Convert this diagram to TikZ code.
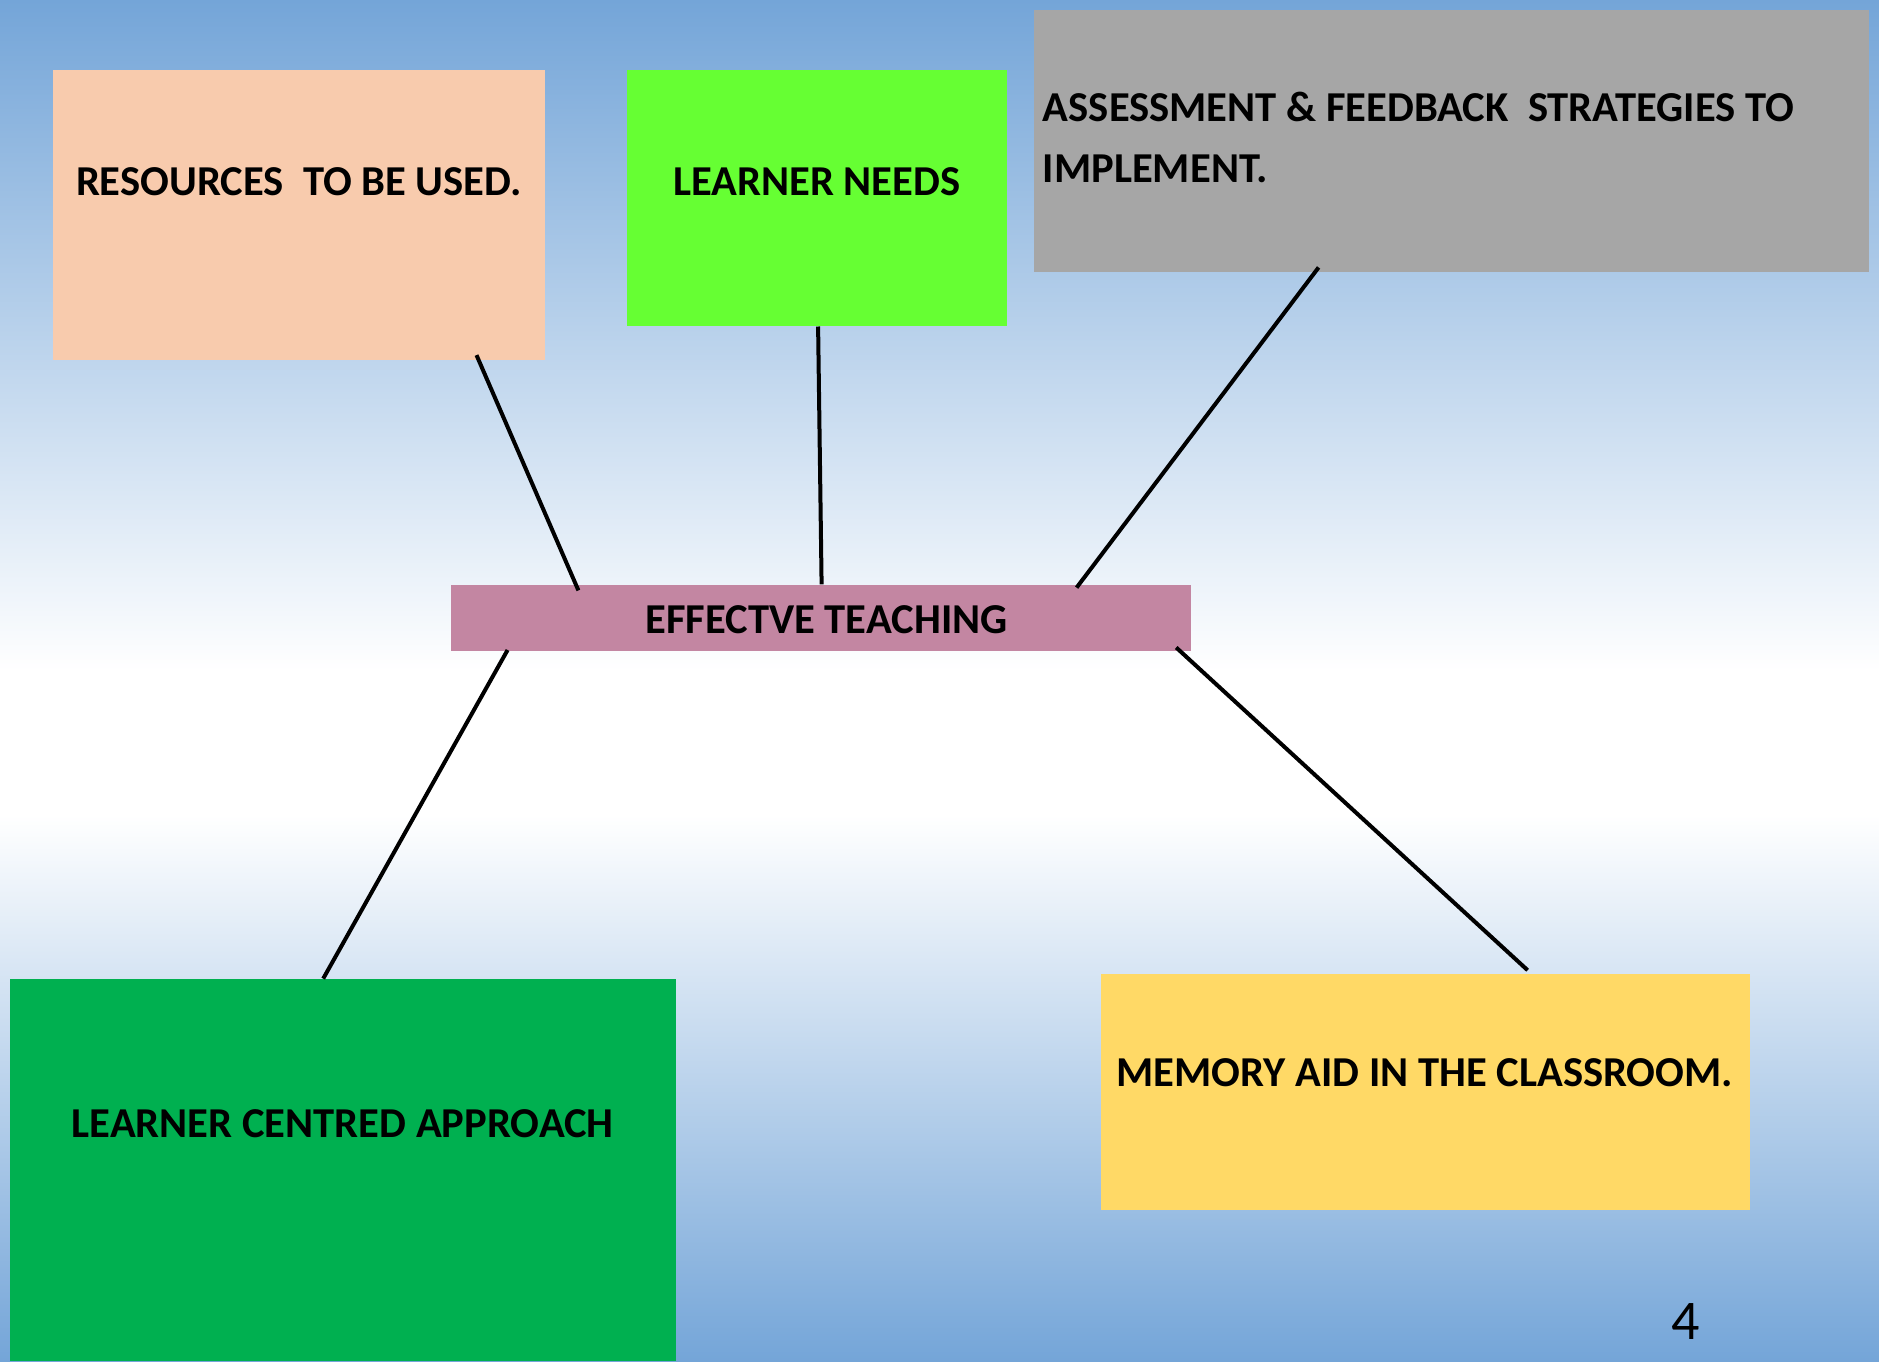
\documentclass[tikz,border=0pt]{standalone}
\usepackage{fontspec}
\setmainfont{Carlito}
\usepackage{tikz, xcolor}
\usetikzlibrary{shapes,arrows}

\definecolor{bgblue}{RGB}{116,165,216}
\definecolor{peach}{RGB}{248,203,173}
\definecolor{lime}{RGB}{102,255,51}
\definecolor{greybox}{RGB}{166,166,166}
\definecolor{mauve}{RGB}{195,134,162}
\definecolor{darkgreen}{RGB}{0,176,80}
\definecolor{gold}{RGB}{255,217,102}

\begin{document}
\begin{tikzpicture}[x=0.5pt, y=-0.5pt]
\tikzstyle{boxr}=[rectangle, inner sep=0pt]
\tikzstyle{txtb}=[inner sep=0pt, font=\fontsize{21.3}{31}\selectfont\bfseries]
\tikzstyle{drawstyle}=[line width=2pt]

\useasboundingbox (0,0) rectangle (1879,1361);
\shade[top color=bgblue, bottom color=white] (0,0) rectangle (1879,671);
\fill[white] (0,670) rectangle (1879,816);
\shade[top color=white, bottom color=bgblue] (0,815) rectangle (1879,1361);

\node[boxr, fill=peach, minimum width=246pt, minimum height=145pt] (Res) at (298.9,214.5) {};
\node[boxr, fill=lime, minimum width=189.8pt, minimum height=128.3pt] (Need) at (816.8,197.8) {};
\node[boxr, fill=greybox, minimum width=417.5pt, minimum height=131.2pt] (Ass) at (1451.5,140.8) {};
\node[boxr, fill=mauve, minimum width=370.2pt, minimum height=33pt] (Eff) at (820.8,617.8) {};
\node[boxr, fill=darkgreen, minimum width=333.2pt, minimum height=191pt] (Lca) at (342.8,1170) {};
\node[boxr, fill=gold, minimum width=324.3pt, minimum height=118pt] (Mem) at (1425.3,1092) {};

\node[txtb] (ResT) at (298.9,182) {RESOURCES\ \ TO BE USED.};
\node[txtb] (NeedT) at (816.8,182) {LEARNER NEEDS};
\node[txtb, anchor=west] (AssT1) at (1042.5,106.6) {ASSESSMENT \& FEEDBACK\ \ STRATEGIES TO};
\node[txtb, anchor=west] (AssT2) at (1042.5,169) {IMPLEMENT.};
\node[txtb] (EffT) at (826.5,619.5) {EFFECTVE TEACHING};
\node[txtb] (LcaT) at (342.8,1124) {LEARNER CENTRED APPROACH};
\node[txtb] (MemT) at (1424.8,1072.5) {MEMORY AID IN THE CLASSROOM.};
\node[inner sep=0pt, font=\fontsize{28}{32}\selectfont] (Page) at (1686,1321.7) {4};

\draw[drawstyle] ([xshift=212pt, yshift=2.4pt]Res.south west) -- ([xshift=64.1pt, yshift=-3pt]Eff.north west);
\draw[drawstyle] ([xshift=95.75pt]Need.south west) -- ([xshift=185.7pt]Eff.north west);
\draw[drawstyle] ([xshift=142.5pt, yshift=2.5pt]Ass.south west) -- ([xshift=313.2pt, yshift=-1.6pt]Eff.north west);
\draw[drawstyle] ([xshift=28.7pt, yshift=0.6pt]Eff.south west) -- ([xshift=157pt]Lca.north west);
\draw[drawstyle] ([xshift=363pt, yshift=1.85pt]Eff.south west) -- ([xshift=213.5pt, yshift=1.7pt]Mem.north west);
\end{tikzpicture}
\end{document}
